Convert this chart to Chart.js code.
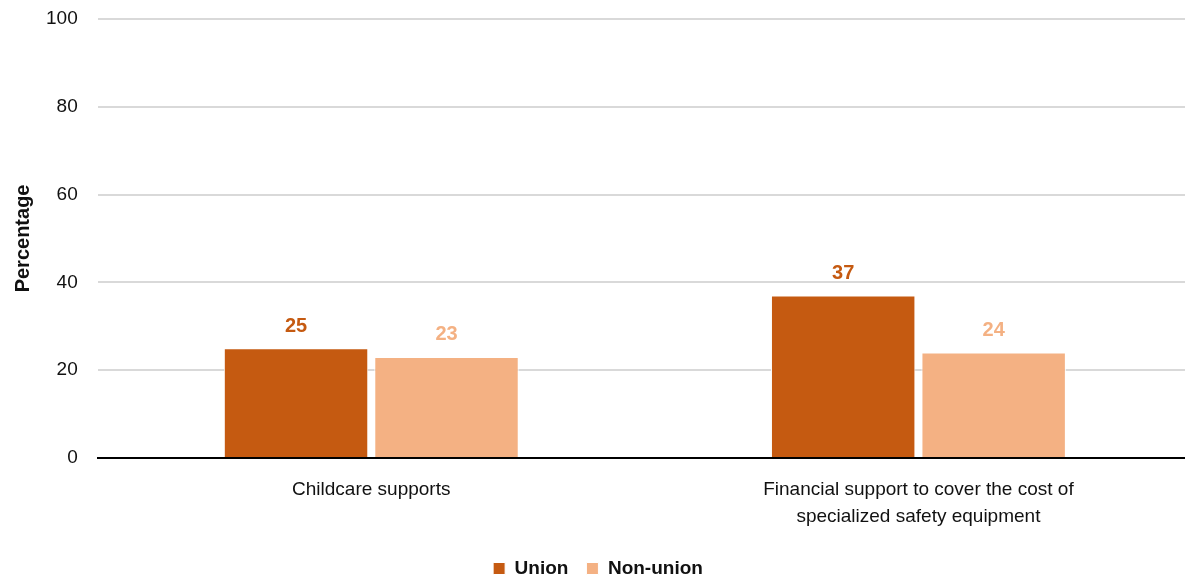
<!DOCTYPE html>
<html>
<head>
<meta charset="utf-8">
<script src="https://cdn.jsdelivr.net/npm/chart.js@4"></script>
<style>
  html, body { margin: 0; padding: 0; background: #fff; }
  #wrap { width: 1185px; height: 575px; position: relative; }
</style>
</head>
<body>
<div id="wrap"><canvas id="chart"></canvas></div>
<script>
// values
const categories = [
  'Childcare supports',
  ['Financial support to cover the cost of', 'specialized safety equipment']
];
const unionValues = [25, 37];
const nonUnionValues = [23, 24];
const seriesNames = ['Union', 'Non-union'];
const yTicks = [0, 20, 40, 60, 80, 100];

const FONT = "'Liberation Sans Narrow', 'Arial Narrow', 'Liberation Sans', Arial, sans-serif";
const UNION = '#C55A11';
const NONUNION = '#F4B183';

// value labels above each bar (no datalabels plugin offline)
const valueLabels = {
  id: 'valueLabels',
  afterDatasetsDraw(chart) {
    const ctx = chart.ctx;
    ctx.save();
    ctx.font = 'bold 20px ' + FONT;
    ctx.textAlign = 'center';
    ctx.textBaseline = 'bottom';
    chart.data.datasets.forEach((ds, i) => {
      chart.getDatasetMeta(i).data.forEach((bar, j) => {
        ctx.fillStyle = ds.backgroundColor;
        ctx.fillText(ds.data[j], bar.x, bar.y - 12);
      });
    });
    ctx.restore();
  }
};

// the plot area in the reference runs a few px past the right edge
const widenX = {
  id: 'widenX',
  afterLayout(chart) {
    const x = chart.scales.x;
    x.right += 7;
    x.width += 7;
    x.configure();
  }
};

new Chart(document.getElementById('chart'), {
  type: 'bar',
  data: {
    labels: categories,
    datasets: [
      { label: seriesNames[0], data: unionValues, backgroundColor: UNION, borderColor: '#fff', borderWidth: 1 },
      { label: seriesNames[1], data: nonUnionValues, backgroundColor: NONUNION, borderColor: '#fff', borderWidth: 1 }
    ]
  },
  options: {
    responsive: true,
    maintainAspectRatio: false,
    animation: false,
    layout: { padding: { top: 19, right: 0, left: 11, bottom: -13 } },
    datasets: { bar: { categoryPercentage: 0.55, barPercentage: 0.96 } },
    plugins: {
      legend: {
        position: 'bottom',
        labels: {
          font: { family: FONT, size: 19, weight: 'bold' },
          color: '#111',
          boxWidth: 12,
          boxHeight: 12,
          padding: 18
        }
      },
      tooltip: { enabled: false }
    },
    scales: {
      x: {
        grid: { display: false },
        border: { color: '#000', width: 2 },
        ticks: { font: { family: FONT, size: 19, lineHeight: 1.45 }, color: '#111', padding: 10 },
        afterFit: scale => {
          scale.paddingLeft = 0;
          scale.paddingRight = 0;
        }
      },
      y: {
        min: 0,
        max: 100,
        afterBuildTicks: axis => { axis.ticks = yTicks.map(v => ({ value: v })); },
        afterFit: scale => {
          scale.width -= 9;
          scale.paddingTop = 0;
          scale.paddingBottom = 0;
        },
        grid: { color: '#d9d9d9', lineWidth: 2, drawTicks: false },
        border: { display: false },
        ticks: { font: { family: FONT, size: 19 }, color: '#111', padding: 20 },
        title: {
          display: true,
          text: 'Percentage',
          font: { family: FONT, size: 20, weight: 'bold' },
          color: '#111',
          padding: { top: 0, bottom: 0 }
        }
      }
    }
  },
  plugins: [valueLabels, widenX]
});
</script>
</body>
</html>
